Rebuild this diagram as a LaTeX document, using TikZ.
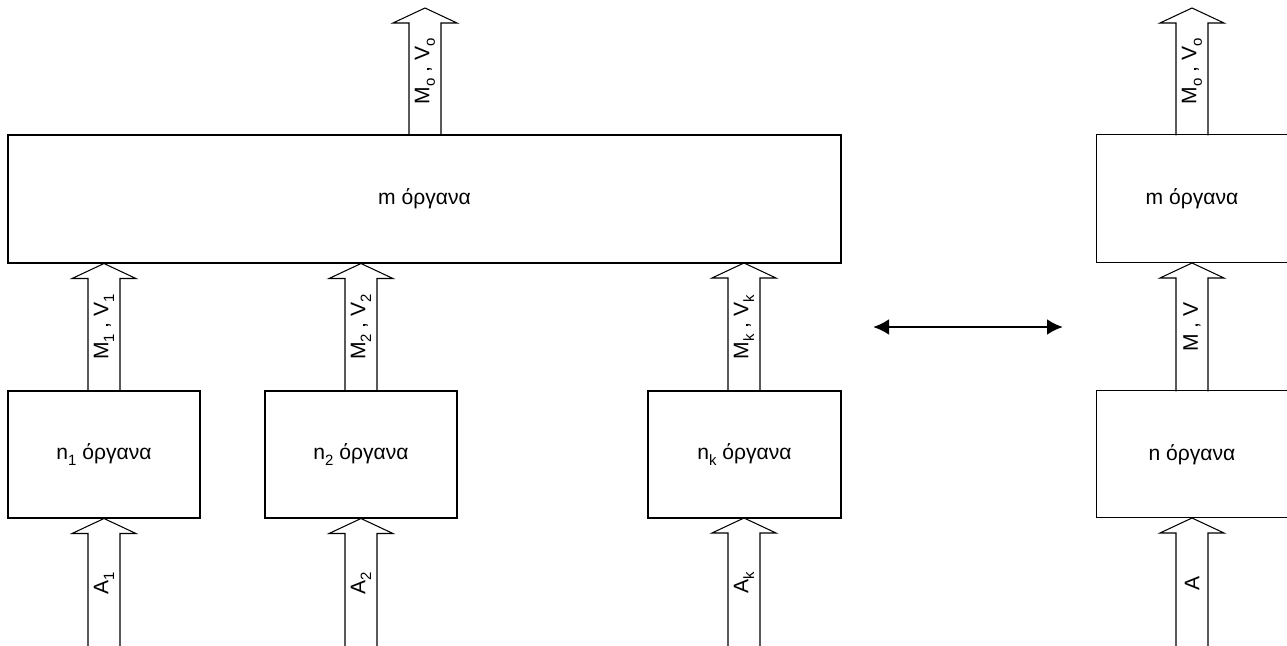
\documentclass[tikz,border=0pt]{standalone}
\usepackage{fontspec}
\setmainfont{Liberation Sans}
\usepackage{tikz}
\usetikzlibrary{arrows.meta, calc, positioning}
\newcommand{\lsub}[1]{\raisebox{-0.5ex}{\fontsize{8.5}{9}\selectfont #1}}
\newcommand{\BlockArrow}[3]{
	\def\lbase{#1}
	\def\ltip{#2}
	\def\llabel{#3}
	\def\sw{16}
	\def\hw{32}
	\def\hl{15}
	\draw[blockline] ($(\lbase)+(-\sw,0)$) -- ($(\ltip)+(-\sw,-\hl)$) -- ($(\ltip)+(-\hw,-\hl)$) -- (\ltip)
		-- ($(\ltip)+(\hw,-\hl)$) -- ($(\ltip)+(\sw,-\hl)$) -- ($(\lbase)+(\sw,0)$);
	\path (\lbase) -- (\ltip) node[midway, rotate=90, font=\fontsize{12}{14}\selectfont] {\llabel};
}

\begin{document}
\begin{tikzpicture}[x=0.2mm, y=0.2mm, line cap=round,
		box/.style={draw, line width=0.6pt, rectangle, inner sep=0pt, font=\fontsize{12}{14}\selectfont},
		blockline/.style={draw, line width=0.6pt, line join=miter},
		equiv/.style={line width=1.6pt, {Latex[length=3.2mm, width=3.2mm]}-{Latex[length=3.2mm, width=3.2mm]}}
	]
	\useasboundingbox (0,0) rectangle (1287,646);

	% left diagram
	\node[box, minimum width=166.6mm, minimum height=25.6mm] (M) at (424.5,447) {m όργανα};
	\node[box, minimum width=38.4mm, minimum height=25.4mm] (N1) at (104,191.5) {n\lsub{1} όργανα};
	\node[box, minimum width=38.4mm, minimum height=25.4mm] (N2) at (361,191.5) {n\lsub{2} όργανα};
	\node[box, minimum width=38.6mm, minimum height=25.4mm] (Nk) at (744.5,191.5) {n\lsub{k} όργανα};

	\coordinate (Mtop) at (425,638);
	\BlockArrow{M.north -| Mtop}{Mtop}{M\lsub{o} , V\lsub{o}}
	\BlockArrow{N1.north}{N1.north |- M.south}{M\lsub{1} , V\lsub{1}}
	\BlockArrow{N2.north}{N2.north |- M.south}{M\lsub{2} , V\lsub{2}}
	\BlockArrow{744,255}{744,383}{M\lsub{k} , V\lsub{k}}

	\coordinate (A1) at (104,-2);
	\coordinate (A2) at (361,-2);
	\coordinate (Ak) at (744,-2);
	\BlockArrow{A1}{N1.south}{A\lsub{1}}
	\BlockArrow{A2}{N2.south}{A\lsub{2}}
	\BlockArrow{Ak}{744,128}{A\lsub{k}}

	% equivalence
	\coordinate (EqL) at (873,319);
	\coordinate (EqR) at (1063,319);
	\draw[equiv] (EqL) -- (EqR);

	% right diagram (cut by the page edge)
	\node[box, minimum width=41mm, minimum height=25.6mm, anchor=south west] (Mr) at (1096,383) {};
	\node[font=\fontsize{12}{14}\selectfont] (MrText) at (1192,447) {m όργανα};
	\node[box, minimum width=41mm, minimum height=25.4mm, anchor=south west] (Nr) at (1096,128) {};
	\node[font=\fontsize{12}{14}\selectfont] (NrText) at (1192,191.5) {n όργανα};

	\coordinate (Mrtop) at (1192,638);
	\coordinate (Ar) at (1192,-2);
	\BlockArrow{1192,511}{Mrtop}{M\lsub{o} , V\lsub{o}}
	\BlockArrow{1192,255}{1192,383}{M , V}
	\BlockArrow{Ar}{1192,128}{A}
\end{tikzpicture}
\end{document}
